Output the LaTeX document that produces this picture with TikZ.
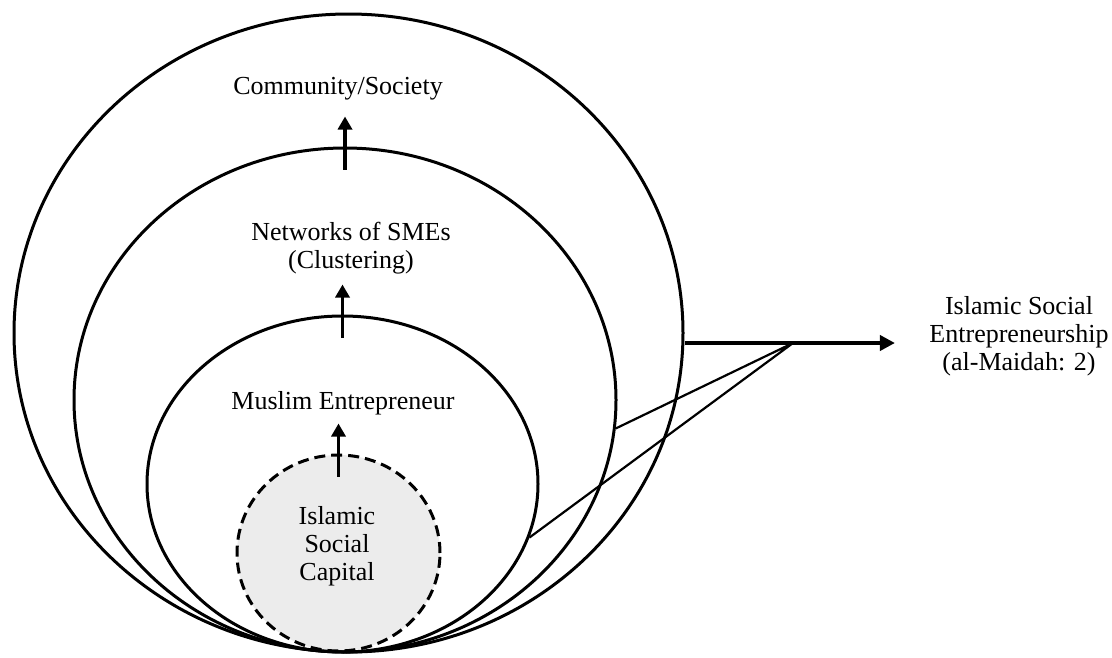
\documentclass[tikz,border=0pt]{standalone}
\usepackage{fontspec}
\setmainfont{Liberation Serif}
\usetikzlibrary{shapes.geometric,arrows.meta}
\tikzset{
    ring/.style={draw=black, ellipse, line width=3pt, inner sep=0pt},
    up/.style={line width=3.5pt, -{Triangle[width=14pt,length=13pt]}}
}

\begin{document}
\begin{tikzpicture}[x=1pt, y=-1pt,
  every node/.style={font=\fontsize{26}{28}\selectfont, align=center}
]
\useasboundingbox (0,0) rectangle (1112,657);
% innermost (dashed) first so the rings sit on top of its fill
\node [ring, fill=gray!15, dash pattern=on 11pt off 6pt,
       minimum width=203pt, minimum height=196pt] (capital) at (338.5,553) {};
\node [ring, minimum width=391pt, minimum height=336pt] (muslim) at (342.5,484) {};
\node [ring, minimum width=542pt, minimum height=504pt] (smes) at (345,400) {};
\node [ring, minimum width=669pt, minimum height=638pt] (society) at (348.5,333) {};

% labels
\node (lsociety) at (338,89) {Community/Society};
\node (lsmes) at (351,248) {Networks of SMEs\\(Clustering)};
\node (lmuslim) at (343,403) {Muslim Entrepreneur};
\node (lcapital) at (337,546) {Islamic\\Social\\Capital};
\node (ise) at (1019,336) {Islamic Social\\Entrepreneurship\\(al-Maidah: 2)};

% upward arrows through the rings
\foreach \r in {capital,muslim,smes}
  \draw [up] ([yshift=-23pt]\r.north) -- ([yshift=30pt]\r.north);

\coordinate (hub) at (793,343);
\draw [line width=2.2pt] (smes.-6) -- (hub) -- (muslim.-16.5);
\draw [line width=3.8pt, shorten >=31pt, -{Triangle[width=15pt,length=15pt]}]
  (hub -| society.east) -- (hub -| ise.west);

\end{tikzpicture}
\end{document}
